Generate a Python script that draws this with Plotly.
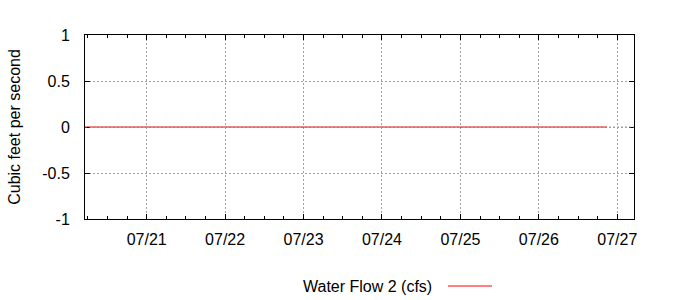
import plotly.graph_objects as go

# Data (all readings are zero)
times = ["2023-07-20 05:07", "2023-07-21 00:00", "2023-07-22 00:00", "2023-07-23 00:00",
         "2023-07-24 00:00", "2023-07-25 00:00", "2023-07-26 00:00", "2023-07-26 20:50"]
flow = [0, 0, 0, 0, 0, 0, 0, 0]
series_name = "Water Flow 2 (cfs)"
y_ticks = [-1, -0.5, 0, 0.5, 1]
y_labels = ["-1", "-0.5", "0", "0.5", "1"]

FONT = "Liberation Sans, Arial, sans-serif"
GRID = "#a0a0a0"

fig = go.Figure()
fig.add_trace(go.Scatter(x=times, y=flow, mode="lines",
                         line=dict(color="#ff0000", width=1), showlegend=False))

fig.update_layout(
    width=700, height=300,
    margin=dict(l=85, r=66, t=35, b=81),
    paper_bgcolor="white", plot_bgcolor="white",
    font=dict(family=FONT, size=16, color="black"),
)
fig.update_xaxes(
    type="date",
    range=["2023-07-20 05:07", "2023-07-27 05:07"],
    tick0="2023-07-21", dtick=86400000, tickformat="%m/%d",
    ticks="inside", ticklen=5, tickcolor="black",
    showline=True, linecolor="black", linewidth=1, mirror="allticks",
    showgrid=True, gridcolor=GRID, griddash="2px,2px", gridwidth=1,
    minor=dict(dtick=21600000, ticks="inside", ticklen=3, tickcolor="black", showgrid=False),
    tickfont=dict(size=16), zeroline=False, ticklabelstandoff=6,
)
fig.update_yaxes(
    range=[-1, 1],
    tickvals=y_ticks, ticktext=y_labels,
    ticks="inside", ticklen=5, tickcolor="black",
    showline=True, linecolor="black", linewidth=1, mirror="allticks",
    showgrid=True, gridcolor=GRID, griddash="2px,2px", gridwidth=1,
    zeroline=False, tickfont=dict(size=16), ticklabelstandoff=11,
    title=dict(text="Cubic feet per second", font=dict(size=16), standoff=17),
)
# grid drawn in front of data at y=0
fig.add_shape(type="line", xref="paper", yref="y", x0=0, x1=1, y0=0, y1=0,
              line=dict(color=GRID, width=1, dash="2px,2px"), layer="above")
# legend: text followed by sample line
fig.add_annotation(text=series_name, xref="paper", yref="paper",
                   x=(434 - 85) / 549, y=-(286 - 219) / 184, xanchor="right", yanchor="middle",
                   showarrow=False, font=dict(size=16))
fig.add_shape(type="line", xref="paper", yref="paper",
              x0=(448 - 85) / 549, x1=(492 - 85) / 549,
              y0=-(286 - 219) / 184, y1=-(286 - 219) / 184,
              line=dict(color="#ff0000", width=1))

fig.write_html("out.html")
